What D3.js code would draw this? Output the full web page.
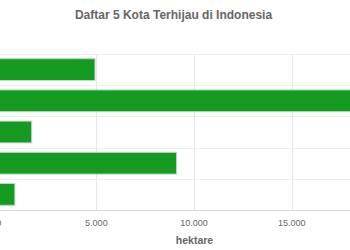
<!DOCTYPE html>
<html>
<head>
<meta charset="utf-8">
<script src="https://cdn.jsdelivr.net/npm/d3@7"></script>
<style>
  body { margin: 0; background: #fff; }
  svg { font-family: "Liberation Sans", Arial, sans-serif; }
</style>
</head>
<body>
<svg width="350" height="250"></svg>
<script>
  // data (category names are cut off in the source picture)
  const cities = ["Kota 1", "Kota 2", "Kota 3", "Kota 4", "Kota 5"];
  const hectares = [4930, 19000, 1690, 9110, 830];
  const ticks = [0, 5000, 10000, 15000];

  const svg = d3.select("svg");
  const plotTop = 54, plotBottom = 210;

  const x = d3.scaleLinear().domain([0, 20000]).range([-1.3, 389.4]);
  const y = d3.scaleBand().domain(cities).range([plotTop, plotBottom]).paddingInner(0.3).paddingOuter(0.15);

  const fmt = (v) => d3.format(",")(v).replace(/,/g, ".");

  // grid
  svg.selectAll(".vgrid")
    .data(ticks.slice(1))
    .enter()
    .append("line")
    .attr("x1", (d) => Math.round(x(d)) + 0.5)
    .attr("x2", (d) => Math.round(x(d)) + 0.5)
    .attr("y1", plotTop)
    .attr("y2", plotBottom)
    .attr("stroke", "#e6e6e6");

  const bandLines = d3.range(cities.length).map((i) => plotTop + i * (plotBottom - plotTop) / cities.length);
  svg.selectAll(".hgrid")
    .data(bandLines)
    .enter()
    .append("line")
    .attr("x1", 0)
    .attr("x2", 350)
    .attr("y1", (d) => Math.round(d) + 0.5)
    .attr("y2", (d) => Math.round(d) + 0.5)
    .attr("stroke", "#eeeeee");

  // axis line
  svg.append("line")
    .attr("x1", 0).attr("x2", 350)
    .attr("y1", plotBottom + 0.5).attr("y2", plotBottom + 0.5)
    .attr("stroke", "#d8d8d8");

  // bars
  svg.selectAll("rect")
    .data(cities)
    .enter()
    .append("rect")
    .attr("x", x(0))
    .attr("y", (d) => y(d))
    .attr("width", (d, i) => x(hectares[i]) - x(0))
    .attr("height", y.bandwidth())
    .attr("fill", "#169b22")
    .attr("stroke", "#c8d8c8")
    .attr("stroke-width", 1);

  // tick labels
  svg.selectAll(".tick")
    .data(ticks)
    .enter()
    .append("text")
    .attr("x", (d) => x(d))
    .attr("y", 226)
    .attr("text-anchor", "middle")
    .attr("font-size", 9)
    .attr("fill", "#666")
    .text(fmt);

  // axis title
  svg.append("text")
    .attr("x", 194.5)
    .attr("y", 244)
    .attr("text-anchor", "middle")
    .attr("font-size", 10.5)
    .attr("font-weight", "bold")
    .attr("fill", "#666")
    .text("hektare");

  // title
  svg.append("text")
    .attr("x", 173.5)
    .attr("y", 18.5)
    .attr("text-anchor", "middle")
    .attr("font-size", 12)
    .attr("font-weight", "bold")
    .attr("fill", "#666")
    .text("Daftar 5 Kota Terhijau di Indonesia");
</script>
</body>
</html>
